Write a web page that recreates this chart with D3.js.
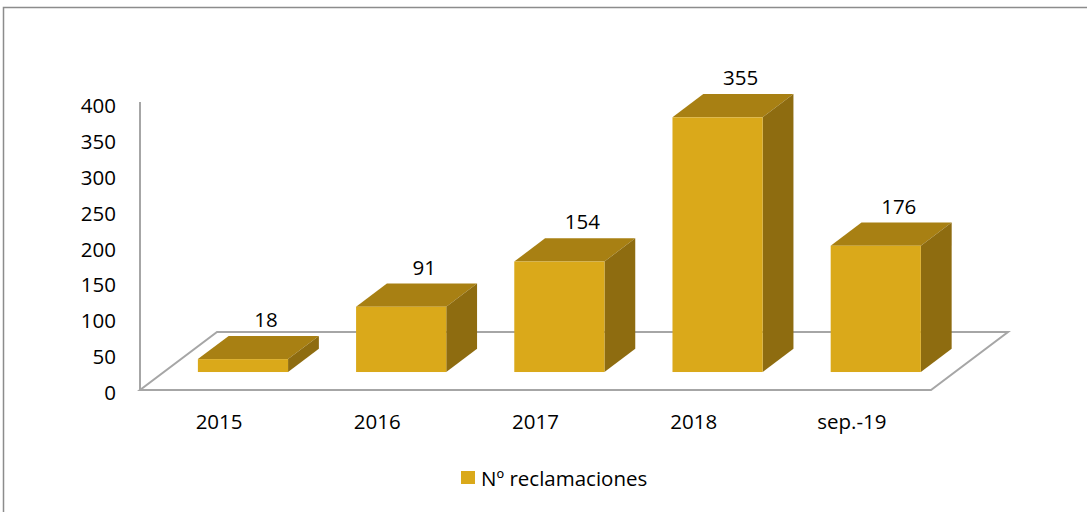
<!DOCTYPE html>
<html>
<head>
<meta charset="utf-8">
<script src="https://cdn.jsdelivr.net/npm/d3@7"></script>
<style>
  html, body { margin: 0; padding: 0; background: #fff; }
  svg { display: block; }
</style>
</head>
<body>
<svg id="chart" width="1087" height="512"></svg>
<script>
const categories = ["2015", "2016", "2017", "2018", "sep.-19"];
const values = [18, 91, 154, 355, 176];
const yTicks = [0, 50, 100, 150, 200, 250, 300, 350, 400];
const seriesName = "Nº reclamaciones";

const W = 1087, H = 512;
const svg = d3.select("#chart");
const font = "'Open Sans', sans-serif";

// frame
svg.append("rect").attr("x", 3.5).attr("y", 7.5).attr("width", 1200).attr("height", 700)
  .attr("fill", "none").attr("stroke", "#8c8c8c").attr("stroke-width", 1.5);

const floorLeft = 140, floorRight = 931, floorFront = 390;
const depth = { dx: 77, dy: -58 };   // floor depth vector
const barFront = 0.31, barDepth = 0.40; // fractions of floor depth

const x = d3.scaleBand().domain(categories).range([floorLeft, floorRight])
  .paddingInner(0.43).paddingOuter(0.215);
const y = d3.scaleLinear().domain([0, 400]).range([floorFront, 103]);

const gridColor = "#a6a6a6";
// floor
const floorPts = [
  [floorLeft, floorFront],
  [floorRight, floorFront],
  [floorRight + depth.dx, floorFront + depth.dy],
  [floorLeft + depth.dx, floorFront + depth.dy]
];
svg.append("path").attr("d", "M" + floorPts.map(p => p.join(",")).join("L") + "Z")
  .attr("fill", "none").attr("stroke", gridColor).attr("stroke-width", 2);
// vertical axis line
svg.append("line").attr("x1", floorLeft).attr("x2", floorLeft)
  .attr("y1", y(0)).attr("y2", y(400) - 1)
  .attr("stroke", gridColor).attr("stroke-width", 2);

// y tick labels
svg.append("g").selectAll("text").data(yTicks).join("text")
  .attr("x", 116).attr("y", d => y(d) + 2)
  .attr("text-anchor", "end").attr("dominant-baseline", "central")
  .attr("font-family", font).attr("font-size", 20.5).attr("fill", "#000")
  .text(d => d);

// category labels
svg.append("g").selectAll("text").data(categories).join("text")
  .attr("x", d => x(d) + x.bandwidth() / 2).attr("y", 421)
  .attr("text-anchor", "middle").attr("dominant-baseline", "central")
  .attr("font-family", font).attr("font-size", 20.5).attr("fill", "#000")
  .text(d => d);

// bars
const fx = depth.dx * barFront, fy = depth.dy * barFront;
const bx = depth.dx * barDepth, by = depth.dy * barDepth;
const colFront = "#daa91a", colTop = "#a88013", colSide = "#8e6c10";

const bars = svg.append("g").selectAll("g").data(categories.map((c, i) => ({ c, v: values[i] }))).join("g");
bars.each(function (d) {
  const g = d3.select(this);
  const x0 = x(d.c) + fx, x1 = x0 + x.bandwidth();
  const yb = y(0) + fy, yt = y(d.v) + fy;
  // top
  g.append("path").attr("d", `M${x0},${yt}L${x1},${yt}L${x1 + bx},${yt + by}L${x0 + bx},${yt + by}Z`)
    .attr("fill", colTop);
  // side
  g.append("path").attr("d", `M${x1},${yt}L${x1 + bx},${yt + by}L${x1 + bx},${yb + by}L${x1},${yb}Z`)
    .attr("fill", colSide);
  // front
  g.append("rect").attr("x", x0).attr("y", yt).attr("width", x1 - x0).attr("height", yb - yt)
    .attr("fill", colFront);
  // value label
  g.append("text").attr("x", (x0 + x1) / 2 + 23).attr("y", yt + by - 17)
    .attr("text-anchor", "middle").attr("dominant-baseline", "central")
    .attr("font-family", font).attr("font-size", 20.5).attr("fill", "#000")
    .text(d.v);
});

// legend
const lg = svg.append("g");
lg.append("rect").attr("x", 461).attr("y", 471).attr("width", 14).attr("height", 13).attr("fill", colFront);
lg.append("text").attr("x", 481).attr("y", 478).attr("dominant-baseline", "central")
  .attr("font-family", font).attr("font-size", 20.5).attr("fill", "#000")
  .text(seriesName);
</script>
</body>
</html>
